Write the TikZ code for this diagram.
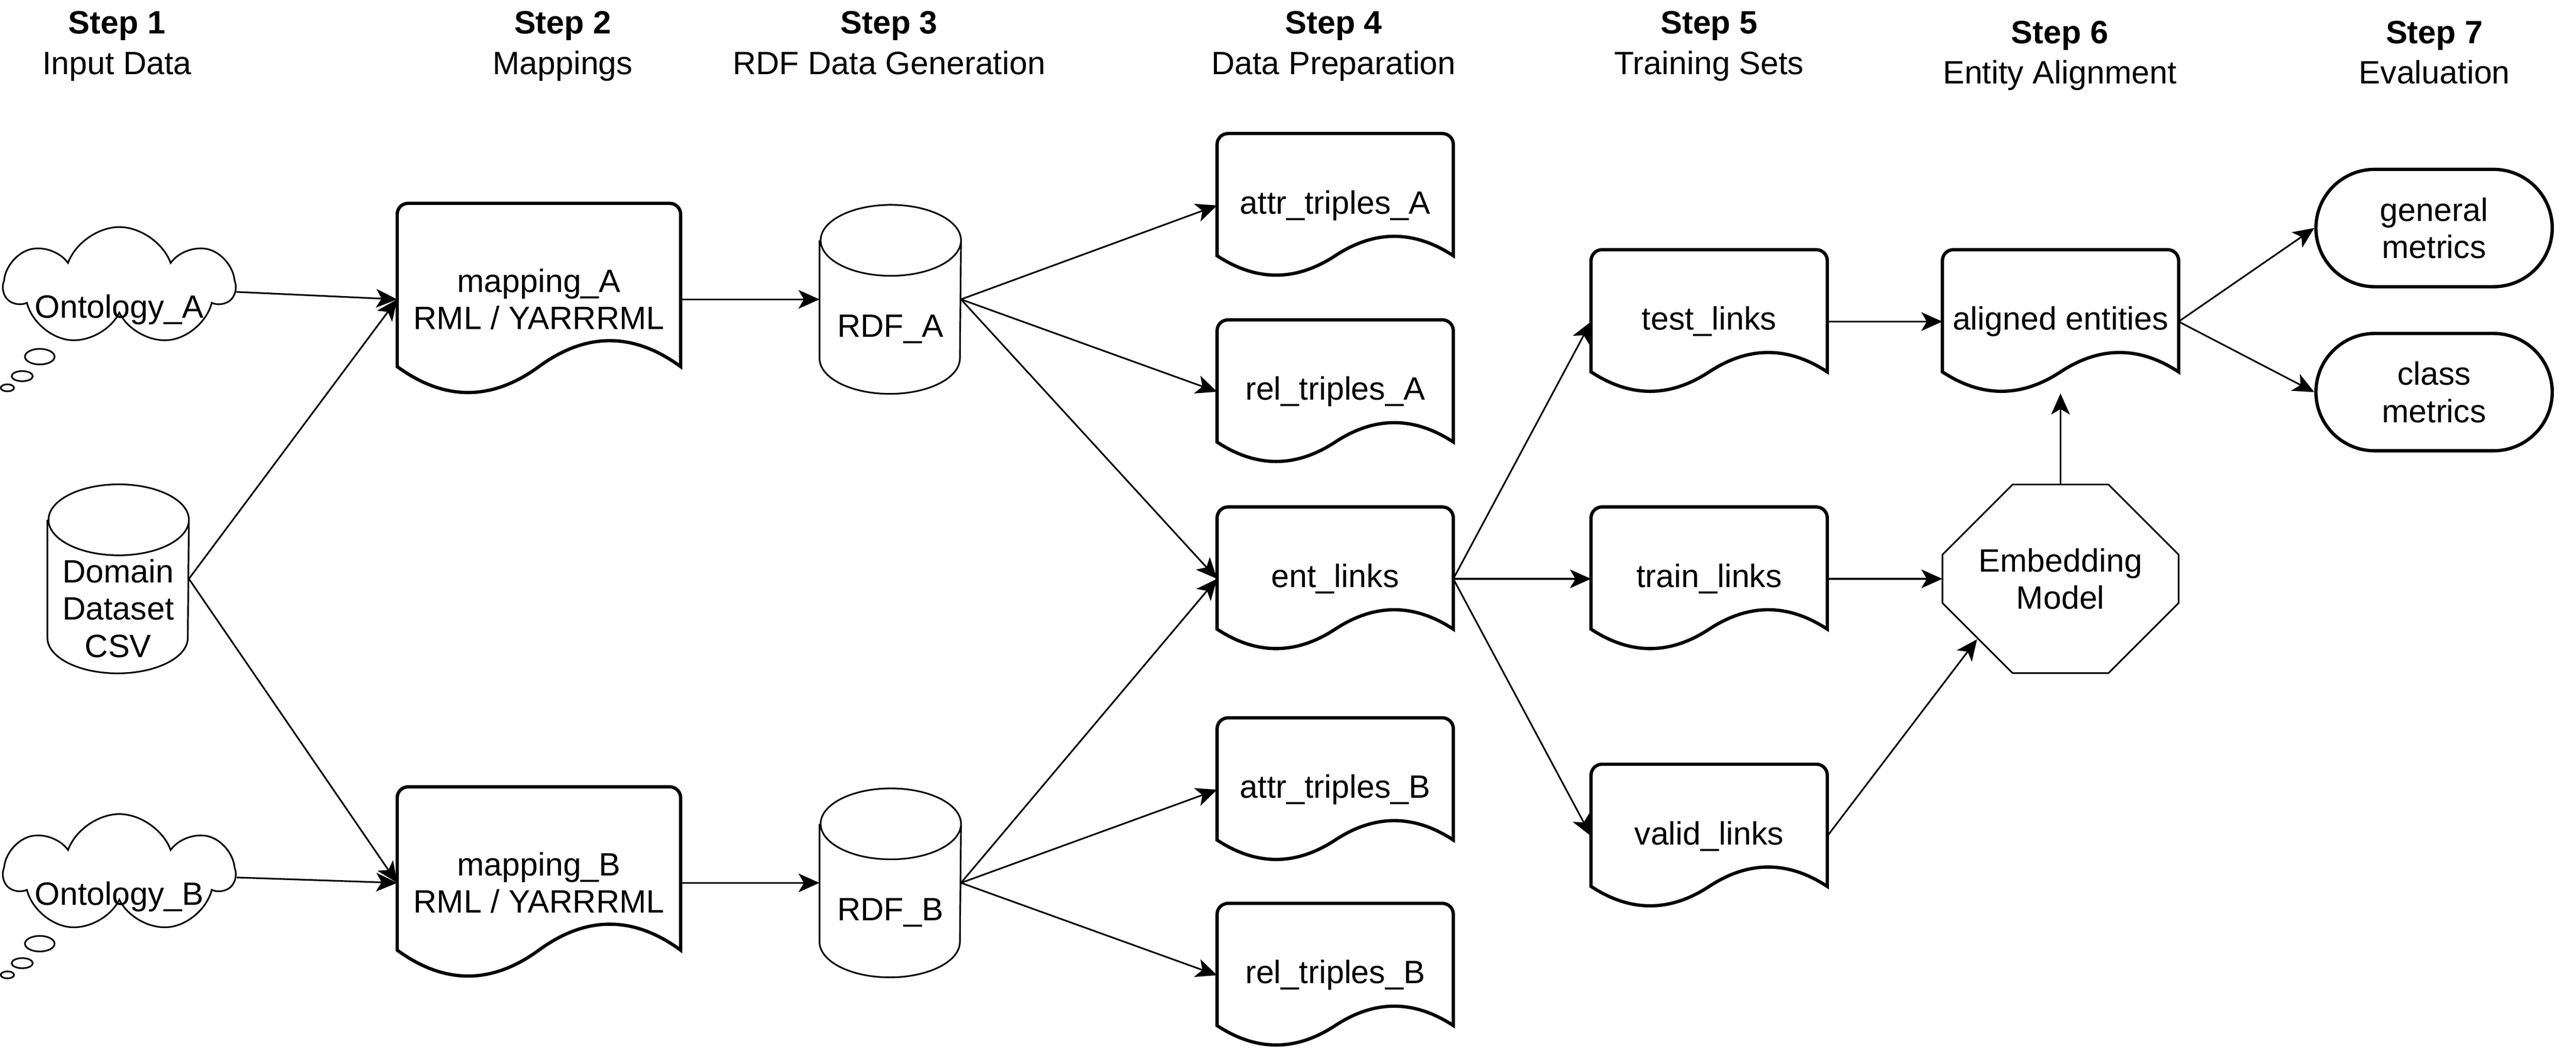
\documentclass[tikz,border=0pt]{standalone}
\usepackage{fontspec}
\setmainfont{Liberation Sans}
\usetikzlibrary{arrows.meta,calc,shapes.symbols,shapes.misc}

\tikzset{
	thinline/.style={line width=0.6pt},
	thickline/.style={line width=1.2pt},
	link/.style={thinline, -{Stealth[length=2.7mm, width=2.4mm, inset=0.7mm]}},
	steptitle/.style={anchor=base, font=\fontsize{11.8}{13.6}\selectfont\bfseries},
	stepsub/.style={anchor=base},
	% document outline, drawn from south west to north east of the node
	docpath/.style={draw, thickline, to path={let \p1=(\tikztostart), \p2=(\tikztotarget) in
		(\x1,{\y1+0.15*(\y2-\y1)}) -- (\x1,\y2-1.4mm) arc[start angle=180, end angle=90, radius=1.4mm]
		-- (\x2-1.4mm,\y2) arc[start angle=90, end angle=0, radius=1.4mm]
		-- (\x2,{\y1+0.15*(\y2-\y1)})
		.. controls ({\x1+0.8333*(\x2-\x1)},{\y1+0.33*(\y2-\y1)}) and ({\x1+0.6667*(\x2-\x1)},{\y1+0.33*(\y2-\y1)}) .. ({0.5*(\x1+\x2)},{\y1+0.15*(\y2-\y1)})
		.. controls ({\x1+0.3333*(\x2-\x1)},{\y1-0.03*(\y2-\y1)}) and ({\x1+0.1667*(\x2-\x1)},{\y1-0.03*(\y2-\y1)}) .. (\x1,{\y1+0.15*(\y2-\y1)}) -- cycle}},
	docbox/.style={rectangle, inner sep=0pt, align=center, minimum width=3.015cm, minimum height=1.83cm,
		append after command={(\tikzlastnode.south west) edge[docpath] (\tikzlastnode.north east)}},
	mapbox/.style={docbox, minimum width=3.62cm, minimum height=2.45cm},
	% cylinder outline
	dbpath/.style={draw, thinline, to path={let \p1=(\tikztostart), \p2=(\tikztotarget) in
		(\x1,\y2-0.455cm) -- (\x1,\y1+0.455cm) arc[start angle=180, end angle=360, x radius=0.9cm, y radius=0.455cm]
		-- (\x2,\y2-0.455cm) arc[start angle=0, end angle=180, x radius=0.9cm, y radius=0.455cm]
		arc[start angle=180, end angle=360, x radius=0.9cm, y radius=0.455cm]}},
	dbbox/.style={rectangle, inner sep=0pt, minimum width=1.8cm, minimum height=2.41cm,
		append after command={(\tikzlastnode.south west) edge[dbpath] (\tikzlastnode.north east)}},
	% octagon outline
	octpath/.style={draw, thinline, to path={let \p1=(\tikztostart), \p2=(\tikztotarget) in
		(\x1+0.9cm,\y2) -- (\x2-0.9cm,\y2) -- (\x2,\y2-0.9cm) -- (\x2,\y1+0.9cm) -- (\x2-0.9cm,\y1)
		-- (\x1+0.9cm,\y1) -- (\x1,\y1+0.9cm) -- (\x1,\y2-0.9cm) -- cycle}},
	octbox/.style={rectangle, inner sep=0pt, align=center, minimum width=3.015cm, minimum height=2.405cm,
		append after command={(\tikzlastnode.south west) edge[octpath] (\tikzlastnode.north east)}},
	cloudbox/.style={cloud, cloud puffs=7, cloud puff arc=140, cloud ignores aspect, draw, thinline,
		inner sep=0pt, minimum width=2.935cm, minimum height=1.525cm},
	metricbox/.style={rounded rectangle, draw, thickline, inner sep=0pt, align=center,
		minimum width=3.03cm, minimum height=1.505cm},
}

\begin{document}
\begin{tikzpicture}[font=\fontsize{11.8}{13.6}\selectfont]
	\useasboundingbox (0,0) rectangle (33.03,13.44);
	% Step headings:
	\node[steptitle] (step1) at (1.5, 13.01) {Step 1};
	\node[stepsub] (step1sub) at (1.5, 12.485) {Input Data};
	\node[steptitle] (step2) at (7.215, 13.01) {Step 2};
	\node[stepsub] (step2sub) at (7.215, 12.485) {Mappings};
	\node[steptitle] (step3) at (11.4, 13.01) {Step 3};
	\node[stepsub] (step3sub) at (11.4, 12.485) {RDF Data Generation};
	\node[steptitle] (step4) at (17.1, 13.01) {Step 4};
	\node[stepsub] (step4sub) at (17.1, 12.485) {Data Preparation};
	\node[steptitle] (step5) at (21.915, 13.01) {Step 5};
	\node[stepsub] (step5sub) at (21.915, 12.485) {Training Sets};
	\node[steptitle] (step6) at (26.41, 12.88) {Step 6};
	\node[stepsub] (step6sub) at (26.41, 12.365) {Entity Alignment};
	\node[steptitle] (step7) at (31.215, 12.88) {Step 7};
	\node[stepsub] (step7sub) at (31.215, 12.365) {Evaluation};

	% Input data:
	\node[cloudbox, label={[yshift=-0.3cm]center:Ontology\_A}] (ontA) at (1.53, 9.765) {};
	\node[cloudbox, label={[yshift=-0.3cm]center:Ontology\_B}] (ontB) at (1.53, 2.235) {};
	\draw[thinline] ([shift={(-1.02,-0.9)}]ontA.center) ellipse [x radius=0.19, y radius=0.1];
	\draw[thinline] ([shift={(-1.245,-1.15)}]ontA.center) ellipse [x radius=0.135, y radius=0.065];
	\draw[thinline] ([shift={(-1.435,-1.3)}]ontA.center) ellipse [x radius=0.085, y radius=0.045];
	\draw[thinline] ([shift={(-1.02,-0.9)}]ontB.center) ellipse [x radius=0.19, y radius=0.1];
	\draw[thinline] ([shift={(-1.245,-1.15)}]ontB.center) ellipse [x radius=0.135, y radius=0.065];
	\draw[thinline] ([shift={(-1.435,-1.3)}]ontB.center) ellipse [x radius=0.085, y radius=0.045];
	\node[dbbox, label={[yshift=-0.38cm, align=center]center:Domain\\Dataset\\CSV}] (domain) at (1.515, 6.015) {};

	% Mappings and RDF data:
	\node[mapbox] (mapA) at (6.91, 9.6) {mapping\_A\\RML / YARRRML};
	\node[mapbox] (mapB) at (6.91, 2.115) {mapping\_B\\RML / YARRRML};
	\node[dbbox, label={[yshift=-0.38cm]center:RDF\_A}] (rdfA) at (11.415, 9.6) {};
	\node[dbbox, label={[yshift=-0.38cm]center:RDF\_B}] (rdfB) at (11.415, 2.115) {};

	% Data preparation:
	\node[docbox] (attrA) at (17.12, 10.805) {attr\_triples\_A};
	\node[docbox] (relA) at (17.12, 8.415) {rel\_triples\_A};
	\node[docbox] (ent) at (17.12, 6.015) {ent\_links};
	\node[docbox] (attrB) at (17.12, 3.31) {attr\_triples\_B};
	\node[docbox] (relB) at (17.12, 0.93) {rel\_triples\_B};

	% Training sets, alignment and evaluation:
	\node[docbox] (test) at (21.915, 9.315) {test\_links};
	\node[docbox] (train) at (21.915, 6.015) {train\_links};
	\node[docbox] (valid) at (21.915, 2.715) {valid\_links};
	\node[docbox] (aligned) at (26.42, 9.315) {aligned entities};
	\node[octbox] (embed) at (26.42, 6.015) {Embedding\\Model};
	\node[metricbox] (genm) at (31.21, 10.515) {general\\metrics};
	\node[metricbox] (clsm) at (31.21, 8.41) {class\\metrics};

	% Arrows:
	\draw[link] (ontA) -- (mapA.west);
	\draw[link] (ontB) -- (mapB.west);
	\draw[link] (domain.east) -- (mapA.west);
	\draw[link] (domain.east) -- (mapB.west);
	\draw[link] (mapA.east) -- (rdfA.west);
	\draw[link] (mapB.east) -- (rdfB.west);
	\draw[link] (rdfA.east) -- (attrA.west);
	\draw[link] (rdfA.east) -- (relA.west);
	\draw[link] (rdfA.east) -- (ent.west);
	\draw[link] (rdfB.east) -- (ent.west);
	\draw[link] (rdfB.east) -- (attrB.west);
	\draw[link] (rdfB.east) -- (relB.west);
	\draw[link] (ent.east) -- (test.west);
	\draw[link] (ent.east) -- (train.west);
	\draw[link] (ent.east) -- (valid.west);
	\draw[link] (test.east) -- (aligned.west);
	\draw[link] (train.east) -- (embed.west);
	\draw[link] (valid.east) -- ([shift={(0.445,0.435)}]embed.south west);
	\draw[link] (embed.north) -- (aligned.south);
	\draw[link] (aligned.east) -- (genm.west);
	\draw[link] (aligned.east) -- (clsm.west);
\end{tikzpicture}
\end{document}
